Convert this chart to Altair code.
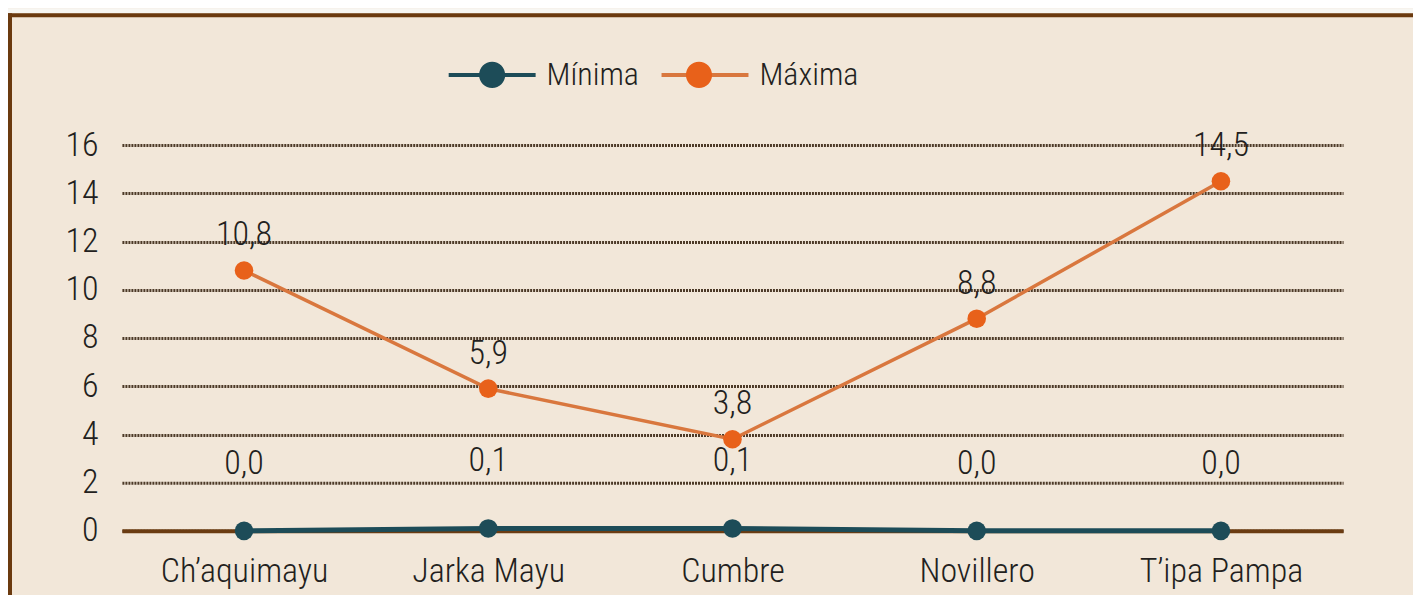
import altair as alt
import pandas as pd

stations = ["Ch\u2019aquimayu", "Jarka Mayu", "Cumbre", "Novillero", "T\u2019ipa Pampa"]
minima = [0.0, 0.1, 0.1, 0.0, 0.0]
maxima = [10.8, 5.9, 3.8, 8.8, 14.5]
series_names = ["Mínima", "Máxima"]
y_ticks = [0, 2, 4, 6, 8, 10, 12, 14, 16]

FONT = "Roboto Condensed, Liberation Sans Narrow, DejaVu Sans Condensed, Roboto"
FW = 300
TXT = "#231f20"
W, H = 1222, 386

rows = []
for s, a, b in zip(stations, minima, maxima):
    rows.append({"station": s, "serie": "Mínima", "value": a})
    rows.append({"station": s, "serie": "Máxima", "value": b})
df = pd.DataFrame(rows)

base = alt.Chart(df).transform_calculate(
    label="replace(format(datum.value, '.1f'), '.', ',')"
)

x = alt.X("station:N", sort=stations, scale=alt.Scale(type="point", padding=0.5),
          axis=alt.Axis(title=None, labelAngle=0, ticks=False, domainColor="#6b3c12",
                        domainWidth=4, labelPadding=24, labelBaseline="top",
                        labelFont=FONT, labelFontSize=34, labelFontWeight=FW,
                        labelColor=TXT, grid=False))
y = alt.Y("value:Q", scale=alt.Scale(domain=[0, 16], nice=False, zero=True),
          axis=alt.Axis(title=None, values=y_ticks, ticks=False, domain=False,
                        labelPadding=24, labelFont=FONT, labelFontSize=34, labelFontWeight=FW,
                        labelColor=TXT, grid=True, gridColor="#4d3a28",
                        gridDash=[2, 1], gridWidth=3))

stroke_scale = alt.Scale(domain=series_names, range=["#1d4c58", "#d9773e"])
fill_scale = alt.Scale(range=["#1d4c58", "#e8611a"])

LEG = dict(title=None, orient="none", direction="horizontal", legendX=325, legendY=-116,
           symbolSize=7569, symbolStrokeWidth=4, labelFont=FONT, labelFontSize=32,
           labelFontWeight=FW, labelColor=TXT, labelOffset=9, columnPadding=14,
           labelLimit=300)
leg_lines = alt.Legend(symbolType="stroke", zindex=0, **LEG)
leg_points = alt.Legend(
    symbolType="M-1,0L1,0M-0.3,0A0.3,0.3,0,1,1,0.3,0A0.3,0.3,0,1,1,-0.3,0Z",
    zindex=1, labelOpacity=0, **LEG)

one = pd.DataFrame({"a": [0]})
strip = alt.Chart(one).mark_rule(color="#f7f6f2", strokeWidth=5).encode(
    x=alt.value(-120), x2=alt.value(W + 300), y=alt.value(-134.5))
top_edge = alt.Chart(one).mark_rule(color="#6b3a0f", strokeWidth=4).encode(
    x=alt.value(-114), x2=alt.value(W + 300), y=alt.value(-130))
left_edge = alt.Chart(one).mark_rule(color="#6b3a0f", strokeWidth=4).encode(
    x=alt.value(-112), y=alt.value(-132), y2=alt.value(H + 300))

line_max = base.transform_filter("datum.serie == 'Máxima'").mark_line(strokeWidth=3.5).encode(
    x=x, y=y, stroke=alt.Stroke("serie:N", scale=stroke_scale, legend=leg_lines))
line_min = base.transform_filter("datum.serie == 'Mínima'").mark_line(strokeWidth=5).encode(
    x=x, y=y, stroke=alt.Stroke("serie:N", scale=stroke_scale, legend=leg_lines))

points = base.mark_point(filled=True, size=346, opacity=1).encode(
    x=x, y=y,
    fill=alt.Fill("serie:N", sort=series_names, scale=fill_scale, legend=leg_points))

text_max = base.transform_filter("datum.serie == 'Máxima'").mark_text(
    dy=-35, font=FONT, fontSize=34, fontWeight=FW, color=TXT, baseline="middle").encode(
    x=x, y=y, text="label:N")
text_min = base.transform_filter("datum.serie == 'Mínima'").mark_text(
    dy=-67, font=FONT, fontSize=34, fontWeight=FW, color=TXT, baseline="middle").encode(
    x=x, y=y, text="label:N")

chart = alt.layer(strip, top_edge, left_edge, line_max, line_min, points, text_max, text_min).properties(
    width=W, height=H,
    autosize=alt.AutoSizeParams(type="none"),
    padding={"left": 114, "top": 137, "right": 70, "bottom": 64},
    background="#f2e7d9",
).configure_view(stroke=None)

chart.save("out.html", embed_options={"renderer": "svg", "actions": False})
